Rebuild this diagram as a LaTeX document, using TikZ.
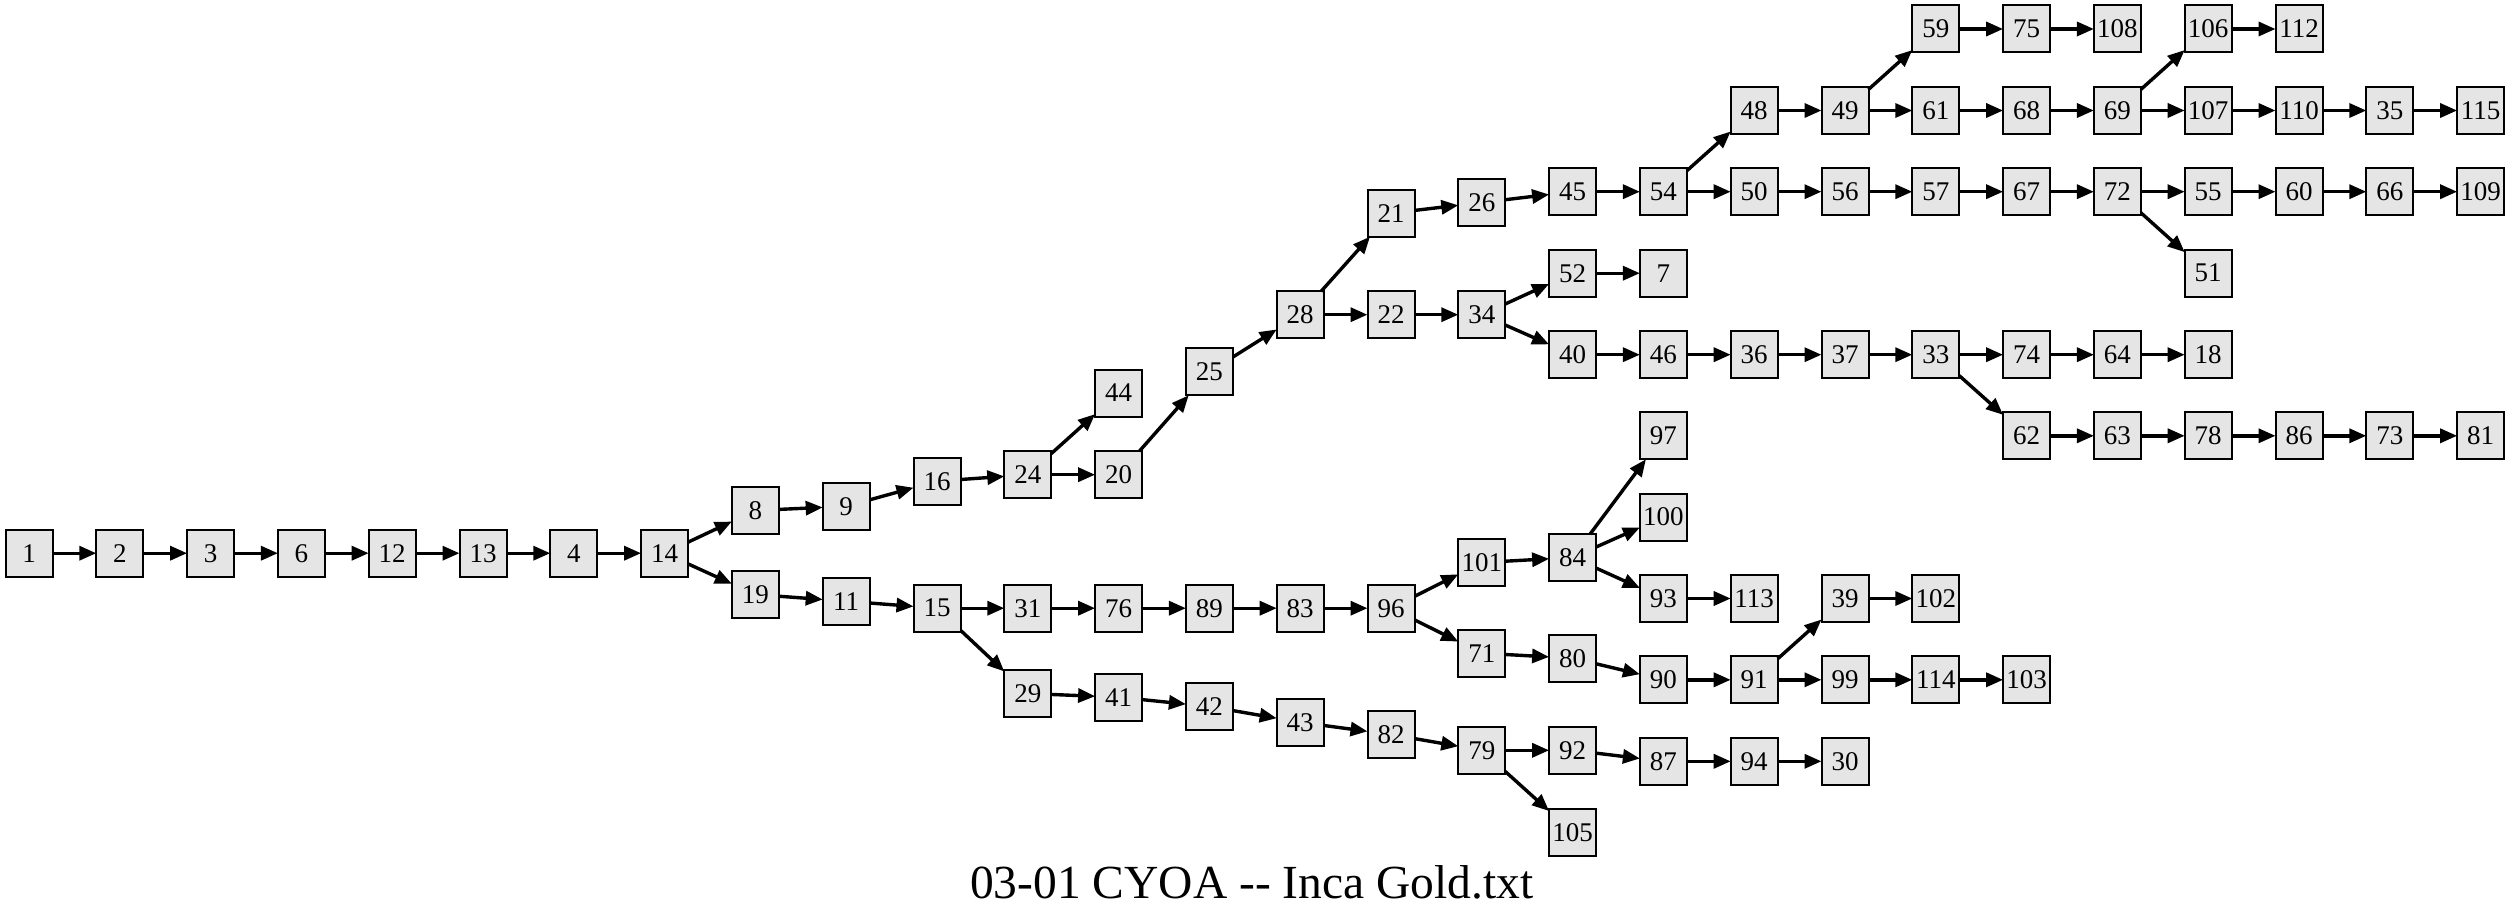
\documentclass[tikz,border=0pt]{standalone}
\usepackage{fontspec}
\setmainfont{Liberation Serif}
\usetikzlibrary{arrows.meta}
\begin{document}
\begin{tikzpicture}[x=1pt,y=-1pt]
\tikzset{
  box/.style={draw=black, line width=2pt, fill=black!10, minimum width=47pt, minimum height=47pt, inner sep=0pt, outer sep=0pt, font=\fontsize{27}{30}\selectfont},
  edge/.style={line width=3.4pt, -{Triangle[length=17pt,width=14pt]}}
}
\useasboundingbox (0,0) rectangle (2507,920);
\fill[white] (0,0) rectangle (2507,920);
\foreach \n/\c/\y in {1/0/553.2, 2/1/553.2, 3/2/553.2, 6/3/553.2, 12/4/553.2, 13/5/553.2, 4/6/553.2, 14/7/553.2,
  8/8/510.5, 19/8/594.5, 9/9/506.3, 11/9/601.2, 16/10/481.2, 15/10/608.2,
  24/11/474.7, 31/11/608.2, 29/11/693.5,
  44/12/393, 20/12/474.7, 76/12/608.2, 41/12/697.2,
  25/13/371.8, 89/13/608.2, 42/13/706.5,
  28/14/314.7, 83/14/608.2, 43/14/722.3,
  21/15/213.2, 22/15/314.7, 96/15/608.2, 82/15/734.5,
  26/16/202.5, 34/16/314.7, 101/16/562.5, 71/16/653.2, 79/16/750.3,
  45/17/191.7, 52/17/273.2, 40/17/354.7, 84/17/557.5, 80/17/658.2, 92/17/750.3, 105/17/832.2,
  54/18/191.7, 7/18/273.2, 46/18/354.7, 97/18/435.8, 100/18/517, 93/18/598.5, 90/18/679.8, 87/18/761.3,
  48/19/110.5, 50/19/191.7, 36/19/354.7, 113/19/598.5, 91/19/679.8, 94/19/761.3,
  49/20/110.5, 56/20/191.7, 37/20/354.7, 39/20/598.5, 99/20/679.8, 30/20/761.3,
  59/21/29, 61/21/110.5, 57/21/191.7, 33/21/354.7, 102/21/598.5, 114/21/679.8,
  75/22/29, 68/22/110.5, 67/22/191.7, 74/22/354.7, 62/22/435.8, 103/22/679.8,
  108/23/29, 69/23/110.5, 72/23/191.7, 64/23/354.7, 63/23/435.8,
  106/24/29, 107/24/110.5, 55/24/191.7, 51/24/273.2, 18/24/354.7, 78/24/435.8,
  112/25/29, 110/25/110.5, 60/25/191.7, 86/25/435.8,
  35/26/110.5, 66/26/191.7, 73/26/435.8,
  115/27/110.5, 109/27/191.7, 81/27/435.8}
  \node[box] (n\n) at ({29+90.8*\c},\y) {\n};
\foreach \a/\b in {1/2, 2/3, 3/6, 6/12, 12/13, 13/4, 4/14, 14/8, 14/19, 8/9, 19/11, 9/16, 16/24, 24/44, 24/20, 20/25, 25/28, 28/21, 28/22, 21/26, 26/45, 45/54, 54/48, 54/50, 48/49, 49/59, 49/61, 59/75, 75/108, 61/68, 68/69, 69/106, 69/107, 106/112, 107/110, 110/35, 35/115, 50/56, 56/57, 57/67, 67/72, 72/55, 72/51, 55/60, 60/66, 66/109, 22/34, 34/52, 34/40, 52/7, 40/46, 46/36, 36/37, 37/33, 33/74, 33/62, 74/64, 64/18, 62/63, 63/78, 78/86, 86/73, 73/81, 11/15, 15/31, 15/29, 31/76, 76/89, 89/83, 83/96, 96/101, 96/71, 101/84, 84/97, 84/100, 84/93, 93/113, 71/80, 80/90, 90/91, 91/39, 91/99, 39/102, 99/114, 114/103, 29/41, 41/42, 42/43, 43/82, 82/79, 79/92, 79/105, 92/87, 87/94, 94/30}
  \draw[edge] (n\a) -- (n\b);
\node[anchor=base west, font=\fontsize{47.5}{50}\selectfont, inner sep=0pt] (title) at (970,898) {03-01 CYOA -{}- Inca Gold.txt};
\end{tikzpicture}
\end{document}
